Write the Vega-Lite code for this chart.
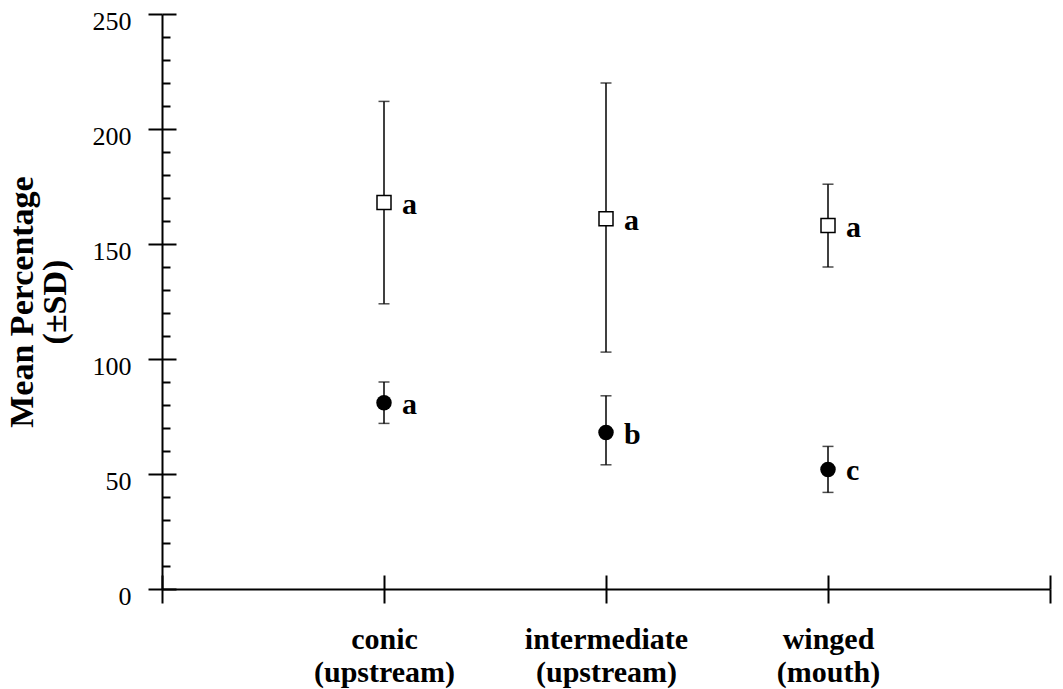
{
  "$schema": "https://vega.github.io/schema/vega-lite/v6.json",
  "width": 888,
  "height": 575,
  "autosize": {"type": "none"},
  "padding": {"left": 162, "top": 14, "right": 13, "bottom": 100},
  "background": "white",
  "config": {"view": {"stroke": null}, "font": "Liberation Serif"},
  "data": {
    "values": [
      {"site": "conic", "pos": 1, "kind": "open", "mean": 168, "lo": 124, "hi": 212, "letter": "a"},
      {"site": "conic", "pos": 1, "kind": "filled", "mean": 81, "lo": 72, "hi": 90, "letter": "a"},
      {"site": "intermediate", "pos": 2, "kind": "open", "mean": 161, "lo": 103, "hi": 220, "letter": "a"},
      {"site": "intermediate", "pos": 2, "kind": "filled", "mean": 68, "lo": 54, "hi": 84, "letter": "b"},
      {"site": "winged", "pos": 3, "kind": "open", "mean": 158, "lo": 140, "hi": 176, "letter": "a"},
      {"site": "winged", "pos": 3, "kind": "filled", "mean": 52, "lo": 42, "hi": 62, "letter": "c"}
    ]
  },
  "resolve": {"axis": {"x": "independent", "y": "independent"}},
  "layer": [
    {
      "mark": {"type": "rule", "color": "black", "strokeWidth": 1.5},
      "encoding": {
        "x": {
          "field": "pos", "type": "quantitative",
          "scale": {"domain": [0, 4], "nice": false, "zero": false},
          "axis": {
            "values": [0, 1, 2, 3, 4],
            "labelExpr": "datum.value == 1 ? ['conic', '(upstream)'] : datum.value == 2 ? ['intermediate', '(upstream)'] : datum.value == 3 ? ['winged', '(mouth)'] : ''",
            "title": null, "grid": false, "orient": "bottom",
            "domainColor": "black", "domainWidth": 2,
            "tickColor": "black", "tickWidth": 2, "tickSize": 14,
            "labelFont": "Liberation Serif", "labelFontWeight": "bold", "labelFontSize": 30,
            "labelLineHeight": 33, "labelPadding": 21, "labelColor": "black", "labelBaseline": "top"
          }
        },
        "y": {
          "field": "lo", "type": "quantitative",
          "scale": {"domain": [0, 250], "nice": false},
          "axis": {
            "values": [0, 50, 100, 150, 200, 250],
            "grid": false, "orient": "left",
            "domainColor": "black", "domainWidth": 2,
            "tickColor": "black", "tickWidth": 2, "tickSize": 14,
            "labelFont": "Liberation Serif", "labelFontSize": 26, "labelColor": "black",
            "labelPadding": 17, "labelOffset": 7,
            "title": ["Mean Percentage", "(±SD)"],
            "titleFont": "Liberation Serif", "titleFontWeight": "bold", "titleFontSize": 34,
            "titleLineHeight": 33, "titleColor": "black", "titlePadding": 20
          }
        },
        "y2": {"field": "hi"}
      }
    },
    {
      "mark": {"type": "tick", "orient": "horizontal", "color": "black", "size": 11, "thickness": 1.5},
      "encoding": {
        "x": {
          "field": "pos", "type": "quantitative",
          "axis": {
            "values": [0, 1, 2, 3, 4], "orient": "bottom", "title": null, "grid": false,
            "domain": false, "labels": false,
            "tickColor": "black", "tickWidth": 2, "tickSize": -14
          }
        },
        "y": {
          "field": "lo", "type": "quantitative",
          "axis": {
            "values": [0, 10, 20, 30, 40, 50, 60, 70, 80, 90, 100, 110, 120, 130, 140, 150, 160, 170, 180, 190, 200, 210, 220, 230, 240, 250],
            "orient": "left", "title": null, "grid": false, "domain": false, "labels": false,
            "tickColor": "black", "tickWidth": 2,
            "tickSize": {"condition": {"test": "datum.value % 50 === 0", "value": -14}, "value": -8}
          }
        }
      }
    },
    {
      "mark": {"type": "tick", "orient": "horizontal", "color": "black", "size": 11, "thickness": 1.5},
      "encoding": {
        "x": {"field": "pos", "type": "quantitative", "axis": null},
        "y": {"field": "hi", "type": "quantitative", "axis": null}
      }
    },
    {
      "transform": [{"filter": "datum.kind == 'open'"}],
      "mark": {"type": "point", "shape": "square", "filled": true, "fill": "white", "stroke": "black", "strokeWidth": 1.5, "size": 196, "opacity": 1},
      "encoding": {
        "x": {"field": "pos", "type": "quantitative", "axis": null},
        "y": {"field": "mean", "type": "quantitative", "axis": null}
      }
    },
    {
      "transform": [{"filter": "datum.kind == 'filled'"}],
      "mark": {"type": "circle", "color": "black", "size": 240, "opacity": 1},
      "encoding": {
        "x": {"field": "pos", "type": "quantitative", "axis": null},
        "y": {"field": "mean", "type": "quantitative", "axis": null}
      }
    },
    {
      "mark": {"type": "text", "font": "Liberation Serif", "fontWeight": "bold", "fontSize": 30, "color": "black", "align": "left", "baseline": "middle", "dx": 18, "dy": 2},
      "encoding": {
        "x": {"field": "pos", "type": "quantitative", "axis": null},
        "y": {"field": "mean", "type": "quantitative", "axis": null},
        "text": {"field": "letter"}
      }
    }
  ]
}
